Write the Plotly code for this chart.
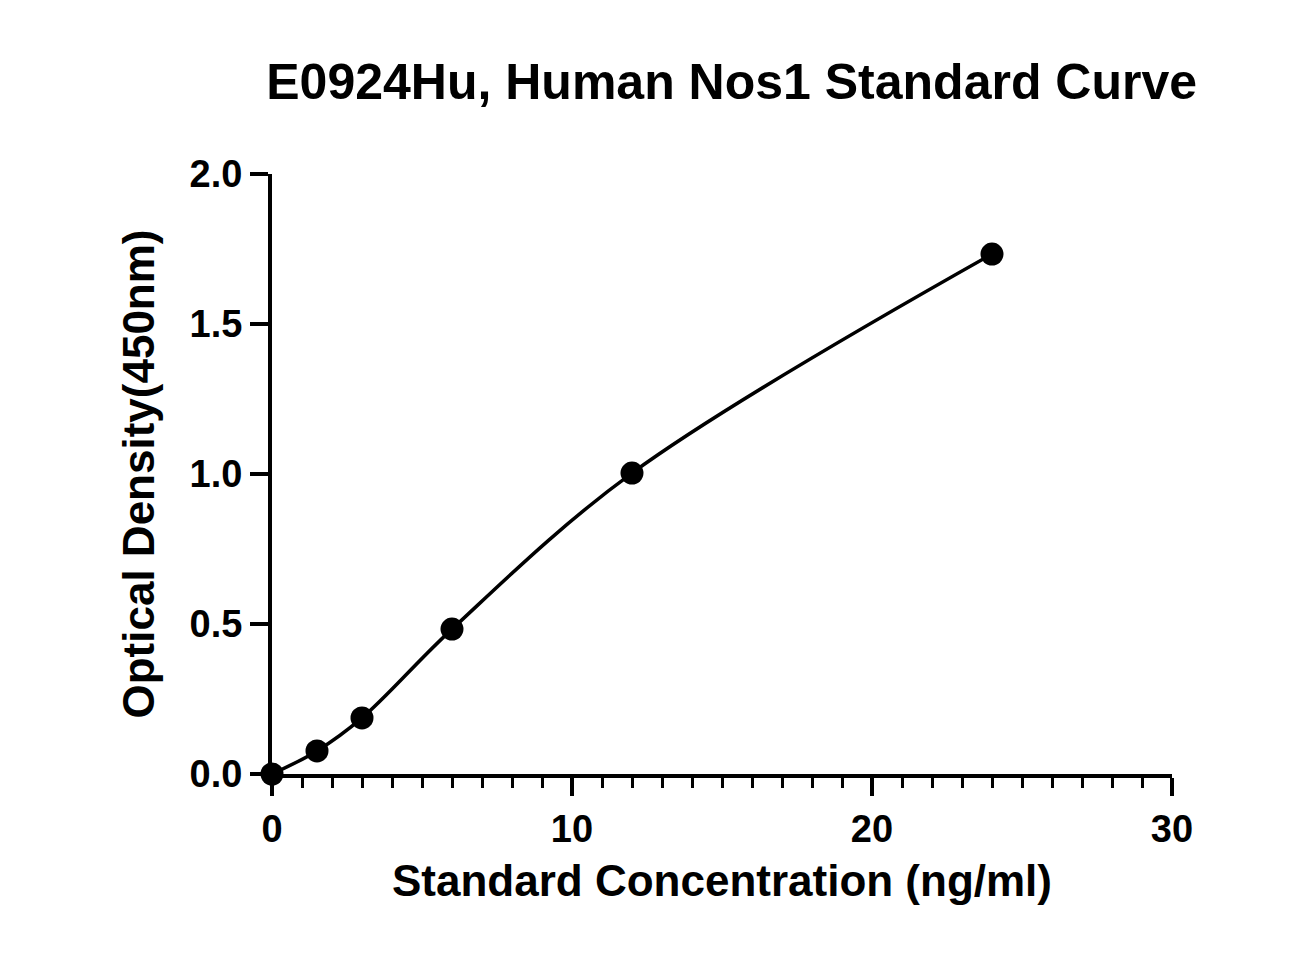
import plotly.graph_objects as go

# Standard points
conc = [0, 1.5, 3, 6, 12, 24]
od = [0.0, 0.077, 0.187, 0.483, 1.003, 1.733]

font = "Liberation Sans, Arial, sans-serif"

fig = go.Figure()
fig.add_trace(go.Scatter(
    x=conc, y=od, mode="lines+markers",
    line=dict(color="black", width=3.5, shape="spline", smoothing=1.0),
    marker=dict(color="black", size=23),
    cliponaxis=False, showlegend=False,
))

fig.update_layout(
    width=1311, height=975,
    paper_bgcolor="white", plot_bgcolor="white",
    margin=dict(l=264, r=147, t=166, b=209),
    title=dict(text="<b>E0924Hu, Human Nos1 Standard Curve</b>",
               x=0.552, xanchor="center", y=0.925, yanchor="middle",
               font=dict(family=font, size=50, color="black")),
    font=dict(family=font, color="black"),
)
fig.update_xaxes(
    range=[0, 30], tickvals=[0, 10, 20, 30], showgrid=False, zeroline=False,
    showline=True, linecolor="black", linewidth=4,
    ticks="outside", ticklen=18, tickwidth=4, tickcolor="black",
    minor=dict(dtick=1, ticks="outside", ticklen=10, tickwidth=3, tickcolor="black"),
    tickfont=dict(size=38, family=font, weight="bold"),
    title=dict(text="<b>Standard Concentration (ng/ml)</b>", font=dict(size=44), standoff=18),
)
fig.update_yaxes(
    range=[0, 2], tickvals=[0, 0.5, 1, 1.5, 2], ticktext=["0.0", "0.5", "1.0", "1.5", "2.0"],
    showgrid=False, zeroline=False,
    showline=True, linecolor="black", linewidth=4,
    ticks="outside", ticklen=18, tickwidth=4, tickcolor="black",
    tickfont=dict(size=38, family=font, weight="bold"),
    title=dict(text="<b>Optical Density(450nm)</b>", font=dict(size=44), standoff=22),
)

fig.write_html("out.html")
